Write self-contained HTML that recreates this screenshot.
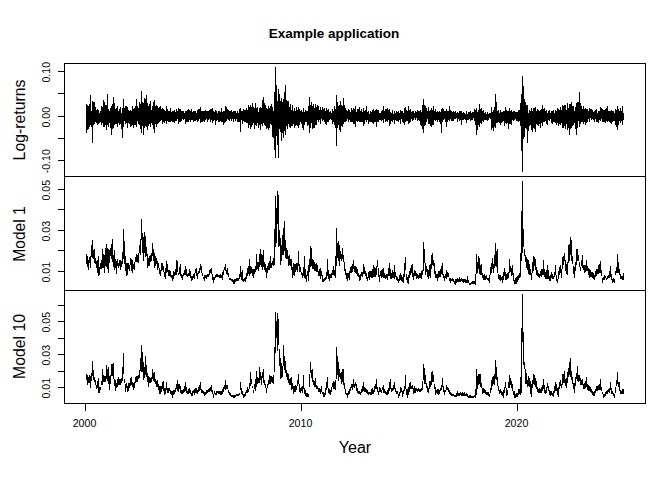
<!DOCTYPE html><html><head><meta charset="utf-8"><style>html,body{margin:0;padding:0;background:#fff;width:672px;height:480px;overflow:hidden}svg{display:block}</style></head><body><svg width="672" height="480" viewBox="0 0 672 480" shape-rendering="crispEdges"><rect width="672" height="480" fill="#fff"/><g fill="none" stroke="#000" stroke-width="1"><rect x="64.5" y="63.5" width="581" height="340"/><path d="M64 176.5H645M64 290.5H645"/><path d="M58 71.5H64M58 93.5H64M58 116.5H64M58 138.5H64M58 160.5H64M58 189.5H64M58 209.5H64M58 230.5H64M58 250.5H64M58 271.5H64M58 305.5H64M58 321.5H64M58 338.5H64M58 354.5H64M58 371.5H64M58 387.5H64M85.5 403V411M301.5 403V411M517.5 403V411"/></g><path d="M86 104.1h1V133.2h-1zM87 104.8h1V129.6h-1zM88 105.5h1V128.9h-1zM89 104.1h1V126.7h-1zM90 94.6h1V125.2h-1zM91 110.6h1V126.7h-1zM92 101.1h1V142.7h-1zM93 101.9h1V125.2h-1zM94 101.9h1V123.8h-1zM95 107.0h1V122.3h-1zM96 109.9h1V123.4h-1zM97 109.2h1V125.2h-1zM98 109.9h1V123.8h-1zM99 113.0h1V122.9h-1zM100 110.6h1V122.3h-1zM101 106.3h1V125.2h-1zM102 107.0h1V123.1h-1zM103 100.4h1V127.4h-1zM104 101.9h1V126.7h-1zM105 104.8h1V125.2h-1zM106 104.8h1V130.3h-1zM107 93.9h1V125.2h-1zM108 109.2h1V126.7h-1zM109 110.7h1V122.7h-1zM110 107.7h1V128.1h-1zM111 105.5h1V135.4h-1zM112 103.9h1V128.9h-1zM113 97.2h1V128.1h-1zM114 103.3h1V125.2h-1zM115 108.6h1V123.5h-1zM116 107.7h1V123.8h-1zM117 105.5h1V126.7h-1zM118 110.7h1V123.4h-1zM119 109.2h1V125.2h-1zM120 107.0h1V123.8h-1zM121 112.8h1V128.6h-1zM122 107.7h1V138.3h-1zM123 99.0h1V126.7h-1zM124 107.5h1V120.8h-1zM125 105.5h1V123.8h-1zM126 106.3h1V123.0h-1zM127 107.0h1V128.1h-1zM128 109.5h1V123.2h-1zM129 110.6h1V123.8h-1zM130 109.9h1V126.7h-1zM131 110.6h1V125.9h-1zM132 106.3h1V125.2h-1zM133 109.2h1V128.1h-1zM134 107.9h1V125.4h-1zM135 106.3h1V125.2h-1zM136 99.0h1V126.7h-1zM137 106.3h1V121.2h-1zM138 107.7h1V123.8h-1zM139 101.9h1V125.2h-1zM140 103.5h1V128.8h-1zM141 90.9h1V133.2h-1zM142 102.4h1V126.1h-1zM143 103.3h1V134.7h-1zM144 97.5h1V128.1h-1zM145 98.9h1V125.6h-1zM146 94.6h1V126.7h-1zM147 103.3h1V129.6h-1zM148 105.9h1V125.6h-1zM149 104.1h1V123.8h-1zM150 101.1h1V126.7h-1zM151 109.6h1V123.2h-1zM152 106.3h1V125.2h-1zM153 101.9h1V128.9h-1zM154 100.4h1V132.5h-1zM155 105.9h1V123.6h-1zM156 104.8h1V126.7h-1zM157 106.3h1V123.8h-1zM158 108.1h1V122.5h-1zM159 107.0h1V122.3h-1zM160 106.3h1V120.8h-1zM161 108.7h1V119.7h-1zM162 107.7h1V123.8h-1zM163 109.2h1V122.3h-1zM164 109.9h1V123.0h-1zM165 110.6h1V120.8h-1zM166 106.3h1V123.8h-1zM167 109.1h1V121.2h-1zM168 110.6h1V122.3h-1zM169 110.8h1V121.5h-1zM170 108.4h1V122.3h-1zM171 112.4h1V121.3h-1zM172 110.6h1V121.6h-1zM173 111.2h1V121.8h-1zM174 109.9h1V123.0h-1zM175 112.0h1V121.3h-1zM176 109.2h1V120.8h-1zM177 111.2h1V119.4h-1zM178 107.7h1V123.8h-1zM179 109.2h1V122.3h-1zM180 109.2h1V122.3h-1zM181 110.6h1V120.8h-1zM182 111.2h1V119.3h-1zM183 111.4h1V120.1h-1zM184 113.0h1V119.0h-1zM185 110.6h1V123.8h-1zM186 111.3h1V121.7h-1zM187 109.9h1V121.6h-1zM188 109.2h1V122.3h-1zM189 110.2h1V119.8h-1zM190 110.6h1V121.6h-1zM191 109.2h1V120.1h-1zM192 111.9h1V119.7h-1zM193 110.6h1V121.6h-1zM194 111.1h1V121.1h-1zM195 110.6h1V120.8h-1zM196 112.7h1V120.0h-1zM197 109.9h1V122.3h-1zM198 109.3h1V120.6h-1zM199 109.4h1V119.2h-1zM200 107.0h1V123.0h-1zM201 110.5h1V121.8h-1zM202 110.6h1V121.6h-1zM203 111.1h1V121.3h-1zM204 110.6h1V121.6h-1zM205 109.9h1V120.1h-1zM206 111.1h1V118.8h-1zM207 110.6h1V122.3h-1zM208 110.9h1V119.9h-1zM209 110.1h1V119.3h-1zM210 109.2h1V122.3h-1zM211 109.3h1V119.8h-1zM212 108.4h1V123.0h-1zM213 110.6h1V120.8h-1zM214 112.2h1V120.1h-1zM215 109.9h1V124.5h-1zM216 111.3h1V121.1h-1zM217 112.7h1V120.0h-1zM218 111.4h1V122.3h-1zM219 110.6h1V122.3h-1zM220 112.0h1V120.5h-1zM221 108.4h1V122.3h-1zM222 112.2h1V121.7h-1zM223 110.6h1V124.5h-1zM224 111.3h1V122.7h-1zM225 106.3h1V122.3h-1zM226 107.0h1V120.8h-1zM227 109.1h1V119.0h-1zM228 110.0h1V119.8h-1zM229 110.6h1V120.8h-1zM230 110.7h1V119.1h-1zM231 109.9h1V120.8h-1zM232 111.9h1V119.1h-1zM233 111.4h1V121.6h-1zM234 111.0h1V119.3h-1zM235 110.6h1V120.8h-1zM236 112.9h1V119.0h-1zM237 111.4h1V122.3h-1zM238 112.6h1V121.6h-1zM239 109.2h1V122.3h-1zM240 108.4h1V131.8h-1zM241 111.1h1V120.4h-1zM242 110.6h1V123.8h-1zM243 109.2h1V120.8h-1zM244 109.7h1V122.0h-1zM245 109.9h1V121.6h-1zM246 108.2h1V122.8h-1zM247 109.6h1V122.7h-1zM248 105.3h1V127.9h-1zM249 107.2h1V125.3h-1zM250 105.3h1V129.3h-1zM251 106.8h1V126.9h-1zM252 103.1h1V125.0h-1zM253 107.2h1V123.3h-1zM254 108.2h1V129.3h-1zM255 103.1h1V124.6h-1zM256 108.2h1V126.4h-1zM257 106.8h1V122.5h-1zM258 111.6h1V127.9h-1zM259 108.2h1V125.0h-1zM260 106.8h1V130.1h-1zM261 108.2h1V124.2h-1zM262 99.5h1V126.4h-1zM263 97.3h1V122.7h-1zM264 102.5h1V125.0h-1zM265 105.3h1V125.6h-1zM266 108.2h1V129.3h-1zM267 108.7h1V128.2h-1zM268 106.0h1V130.1h-1zM269 107.9h1V128.4h-1zM270 106.2h1V123.8h-1zM271 103.8h1V125.0h-1zM272 106.8h1V137.4h-1zM273 110.8h1V138.1h-1zM274 92.2h1V149.8h-1zM275 67.1h1V157.8h-1zM276 84.9h1V136.3h-1zM277 100.8h1V145.4h-1zM278 89.3h1V157.8h-1zM279 93.6h1V129.3h-1zM280 100.9h1V132.0h-1zM281 98.0h1V141.0h-1zM282 102.4h1V132.9h-1zM283 99.2h1V138.1h-1zM284 92.2h1V131.4h-1zM285 84.9h1V135.2h-1zM286 99.5h1V125.8h-1zM287 100.5h1V128.6h-1zM288 100.9h1V124.3h-1zM289 107.2h1V127.1h-1zM290 103.8h1V127.9h-1zM291 109.6h1V125.5h-1zM292 105.3h1V126.4h-1zM293 111.0h1V124.1h-1zM294 108.2h1V127.9h-1zM295 111.2h1V125.8h-1zM296 106.8h1V125.0h-1zM297 109.7h1V125.9h-1zM298 106.8h1V127.9h-1zM299 109.4h1V125.2h-1zM300 110.8h1V121.9h-1zM301 109.7h1V123.5h-1zM302 111.6h1V127.5h-1zM303 108.2h1V130.1h-1zM304 112.3h1V125.4h-1zM305 109.7h1V122.0h-1zM306 111.2h1V122.0h-1zM307 111.1h1V126.4h-1zM308 106.4h1V125.2h-1zM309 97.3h1V133.0h-1zM310 104.8h1V127.9h-1zM311 101.6h1V123.2h-1zM312 106.2h1V129.3h-1zM313 103.8h1V128.2h-1zM314 108.1h1V127.9h-1zM315 103.8h1V124.7h-1zM316 107.2h1V125.0h-1zM317 105.3h1V119.8h-1zM318 106.1h1V122.0h-1zM319 110.4h1V119.8h-1zM320 106.8h1V123.5h-1zM321 110.2h1V119.4h-1zM322 106.8h1V120.6h-1zM323 109.3h1V120.1h-1zM324 108.2h1V122.3h-1zM325 111.1h1V123.5h-1zM326 108.4h1V125.2h-1zM327 109.5h1V122.3h-1zM328 109.2h1V122.3h-1zM329 111.8h1V120.4h-1zM330 111.4h1V119.4h-1zM331 113.1h1V119.5h-1zM332 109.2h1V123.8h-1zM333 110.8h1V122.1h-1zM334 106.3h1V125.2h-1zM335 108.6h1V128.3h-1zM336 95.3h1V146.4h-1zM337 101.9h1V128.1h-1zM338 106.2h1V125.0h-1zM339 104.8h1V129.6h-1zM340 101.1h1V131.8h-1zM341 105.4h1V126.4h-1zM342 106.3h1V126.7h-1zM343 97.5h1V123.8h-1zM344 104.6h1V121.6h-1zM345 107.7h1V122.3h-1zM346 109.9h1V120.8h-1zM347 110.8h1V119.2h-1zM348 109.2h1V122.3h-1zM349 109.7h1V119.8h-1zM350 111.8h1V122.2h-1zM351 108.4h1V122.3h-1zM352 109.7h1V122.3h-1zM353 107.7h1V123.8h-1zM354 108.7h1V124.1h-1zM355 105.5h1V127.4h-1zM356 111.9h1V120.6h-1zM357 109.2h1V122.3h-1zM358 108.9h1V120.7h-1zM359 107.0h1V122.3h-1zM360 111.1h1V121.7h-1zM361 109.2h1V121.6h-1zM362 112.0h1V122.0h-1zM363 108.4h1V125.9h-1zM364 111.2h1V123.5h-1zM365 109.6h1V119.8h-1zM366 105.5h1V122.3h-1zM367 111.8h1V119.9h-1zM368 111.4h1V123.8h-1zM369 113.5h1V121.5h-1zM370 110.6h1V121.6h-1zM371 111.8h1V122.1h-1zM372 109.7h1V122.5h-1zM373 109.2h1V123.8h-1zM374 110.7h1V122.3h-1zM375 109.9h1V122.3h-1zM376 109.2h1V127.4h-1zM377 109.7h1V121.6h-1zM378 109.9h1V122.3h-1zM379 112.7h1V120.0h-1zM380 112.9h1V120.1h-1zM381 110.6h1V120.8h-1zM382 110.4h1V119.6h-1zM383 106.3h1V123.0h-1zM384 110.5h1V119.3h-1zM385 109.2h1V122.3h-1zM386 109.4h1V121.1h-1zM387 107.7h1V122.3h-1zM388 109.8h1V120.0h-1zM389 109.2h1V125.9h-1zM390 111.6h1V123.6h-1zM391 112.6h1V121.1h-1zM392 109.9h1V122.3h-1zM393 113.6h1V120.3h-1zM394 110.6h1V123.8h-1zM395 112.9h1V120.3h-1zM396 110.6h1V120.8h-1zM397 112.4h1V121.3h-1zM398 111.4h1V122.3h-1zM399 112.8h1V119.9h-1zM400 109.9h1V123.8h-1zM401 111.2h1V119.0h-1zM402 110.6h1V121.6h-1zM403 112.5h1V123.1h-1zM404 107.7h1V125.2h-1zM405 107.0h1V122.3h-1zM406 110.0h1V120.5h-1zM407 110.8h1V120.8h-1zM408 105.5h1V123.8h-1zM409 109.7h1V122.6h-1zM410 109.2h1V122.3h-1zM411 111.6h1V119.1h-1zM412 111.4h1V120.8h-1zM413 111.3h1V119.8h-1zM414 112.9h1V118.2h-1zM415 110.6h1V120.1h-1zM416 111.6h1V118.2h-1zM417 109.9h1V120.8h-1zM418 111.3h1V119.8h-1zM419 110.6h1V120.8h-1zM420 109.9h1V125.2h-1zM421 112.3h1V125.9h-1zM422 104.9h1V129.4h-1zM423 99.0h1V133.2h-1zM424 105.2h1V126.3h-1zM425 105.5h1V125.2h-1zM426 107.7h1V122.3h-1zM427 110.7h1V119.0h-1zM428 107.0h1V123.8h-1zM429 111.3h1V124.3h-1zM430 109.6h1V125.5h-1zM431 108.4h1V126.7h-1zM432 109.8h1V124.6h-1zM433 105.5h1V125.2h-1zM434 111.0h1V119.7h-1zM435 109.2h1V120.8h-1zM436 112.1h1V119.9h-1zM437 111.4h1V121.6h-1zM438 112.3h1V120.3h-1zM439 110.6h1V121.6h-1zM440 112.3h1V124.2h-1zM441 109.2h1V132.5h-1zM442 108.4h1V122.3h-1zM443 109.4h1V120.3h-1zM444 111.1h1V119.1h-1zM445 111.4h1V121.6h-1zM446 109.2h1V127.4h-1zM447 110.6h1V122.3h-1zM448 110.9h1V120.3h-1zM449 106.3h1V120.8h-1zM450 109.6h1V118.5h-1zM451 110.6h1V120.8h-1zM452 112.4h1V120.7h-1zM453 111.4h1V120.8h-1zM454 111.9h1V119.4h-1zM455 110.6h1V119.4h-1zM456 113.3h1V118.0h-1zM457 112.1h1V121.6h-1zM458 113.3h1V119.1h-1zM459 110.6h1V120.8h-1zM460 111.0h1V119.7h-1zM461 111.4h1V124.5h-1zM462 113.4h1V119.6h-1zM463 112.1h1V120.1h-1zM464 112.6h1V119.1h-1zM465 114.0h1V119.9h-1zM466 111.4h1V123.0h-1zM467 113.5h1V120.2h-1zM468 112.1h1V120.1h-1zM469 112.1h1V118.9h-1zM470 111.4h1V120.8h-1zM471 113.3h1V120.1h-1zM472 112.1h1V120.1h-1zM473 111.6h1V118.3h-1zM474 109.2h1V120.8h-1zM475 109.7h1V124.7h-1zM476 108.4h1V134.7h-1zM477 112.2h1V129.8h-1zM478 110.1h1V124.6h-1zM479 104.1h1V126.7h-1zM480 108.8h1V122.8h-1zM481 108.4h1V123.8h-1zM482 111.1h1V120.6h-1zM483 109.9h1V122.0h-1zM484 112.5h1V119.8h-1zM485 112.1h1V120.1h-1zM486 113.6h1V119.8h-1zM487 111.9h1V120.6h-1zM488 113.5h1V120.0h-1zM489 113.3h1V118.2h-1zM490 112.6h1V119.1h-1zM491 106.8h1V130.1h-1zM492 112.4h1V127.5h-1zM493 109.7h1V130.8h-1zM494 106.6h1V127.1h-1zM495 94.4h1V127.9h-1zM496 101.6h1V123.0h-1zM497 110.7h1V122.8h-1zM498 109.7h1V122.0h-1zM499 113.1h1V123.4h-1zM500 109.7h1V125.0h-1zM501 111.5h1V123.0h-1zM502 111.9h1V122.0h-1zM503 111.2h1V121.2h-1zM504 110.7h1V126.4h-1zM505 106.8h1V122.7h-1zM506 110.4h1V123.5h-1zM507 111.1h1V123.2h-1zM508 111.0h1V129.3h-1zM509 107.5h1V124.2h-1zM510 111.2h1V124.2h-1zM511 109.7h1V125.0h-1zM512 111.8h1V119.6h-1zM513 110.8h1V120.6h-1zM514 111.1h1V119.9h-1zM515 111.9h1V119.1h-1zM516 111.9h1V120.6h-1zM517 111.9h1V120.9h-1zM518 110.4h1V122.0h-1zM519 109.7h1V121.1h-1zM520 103.0h1V126.4h-1zM521 93.6h1V151.2h-1zM522 76.1h1V172.4h-1zM523 86.3h1V138.9h-1zM524 99.0h1V136.6h-1zM525 102.4h1V127.9h-1zM526 105.3h1V129.0h-1zM527 104.6h1V143.2h-1zM528 112.8h1V130.7h-1zM529 109.7h1V126.4h-1zM530 110.7h1V125.4h-1zM531 108.2h1V130.0h-1zM532 111.4h1V131.5h-1zM533 107.5h1V127.6h-1zM534 108.4h1V128.8h-1zM535 106.8h1V132.3h-1zM536 111.2h1V124.4h-1zM537 109.0h1V125.0h-1zM538 109.7h1V125.9h-1zM539 111.2h1V123.9h-1zM540 109.7h1V127.9h-1zM541 108.8h1V123.2h-1zM542 105.3h1V126.4h-1zM543 109.4h1V122.4h-1zM544 107.5h1V122.0h-1zM545 110.5h1V120.5h-1zM546 109.7h1V123.7h-1zM547 112.8h1V125.0h-1zM548 111.0h1V120.0h-1zM549 109.7h1V120.6h-1zM550 113.1h1V119.3h-1zM551 111.1h1V122.8h-1zM552 111.2h1V123.5h-1zM553 109.7h1V122.1h-1zM554 112.7h1V122.0h-1zM555 109.7h1V122.7h-1zM556 111.3h1V125.0h-1zM557 108.2h1V123.2h-1zM558 109.1h1V126.4h-1zM559 110.3h1V123.5h-1zM560 106.8h1V125.0h-1zM561 110.0h1V123.0h-1zM562 105.3h1V127.9h-1zM563 105.5h1V128.1h-1zM564 104.6h1V126.0h-1zM565 104.8h1V129.3h-1zM566 110.3h1V123.8h-1zM567 103.3h1V129.6h-1zM568 107.8h1V128.2h-1zM569 104.1h1V134.7h-1zM570 104.3h1V128.5h-1zM571 101.9h1V128.1h-1zM572 106.1h1V126.0h-1zM573 105.5h1V125.2h-1zM574 110.6h1V122.6h-1zM575 107.0h1V128.9h-1zM576 103.3h1V135.4h-1zM577 101.9h1V128.1h-1zM578 102.3h1V121.1h-1zM579 92.4h1V126.7h-1zM580 102.6h1V123.8h-1zM581 105.8h1V121.6h-1zM582 109.2h1V122.4h-1zM583 106.3h1V123.8h-1zM584 109.1h1V122.1h-1zM585 107.7h1V125.2h-1zM586 108.8h1V123.1h-1zM587 109.2h1V122.3h-1zM588 111.1h1V119.2h-1zM589 107.7h1V121.6h-1zM590 108.5h1V118.3h-1zM591 109.2h1V120.1h-1zM592 110.2h1V118.8h-1zM593 112.1h1V120.4h-1zM594 110.6h1V122.3h-1zM595 109.9h1V119.1h-1zM596 109.2h1V122.3h-1zM597 112.6h1V121.8h-1zM598 110.6h1V123.0h-1zM599 110.9h1V119.7h-1zM600 107.0h1V120.8h-1zM601 108.0h1V118.9h-1zM602 109.2h1V122.3h-1zM603 110.1h1V122.4h-1zM604 110.0h1V121.9h-1zM605 109.2h1V123.0h-1zM606 108.2h1V121.3h-1zM607 106.3h1V121.6h-1zM608 111.2h1V120.8h-1zM609 110.6h1V122.3h-1zM610 110.9h1V122.7h-1zM611 109.9h1V123.8h-1zM612 110.5h1V122.2h-1zM613 110.6h1V120.8h-1zM614 112.9h1V120.6h-1zM615 109.2h1V125.2h-1zM616 110.4h1V126.8h-1zM617 106.3h1V129.6h-1zM618 109.2h1V125.2h-1zM619 111.1h1V121.4h-1zM620 108.4h1V123.0h-1zM621 111.0h1V120.8h-1zM622 105.5h1V124.5h-1zM623 112.8h1V120.1h-1zM86 254.0h1V263.5h-1zM87 256.3h1V266.5h-1zM88 259.5h1V270.0h-1zM89 256.5h1V263.0h-1zM90 256.0h1V268.0h-1zM91 244.9h1V257.0h-1zM92 240.0h1V258.2h-1zM93 250.3h1V259.2h-1zM94 249.0h1V262.7h-1zM95 257.9h1V263.5h-1zM96 261.3h1V267.8h-1zM97 259.6h1V273.3h-1zM98 256.0h1V276.0h-1zM99 267.0h1V274.7h-1zM100 262.9h1V268.7h-1zM101 260.3h1V269.1h-1zM102 249.0h1V268.4h-1zM103 254.0h1V268.3h-1zM104 254.7h1V273.0h-1zM105 248.1h1V265.7h-1zM106 244.0h1V266.5h-1zM107 248.3h1V268.6h-1zM108 249.2h1V273.0h-1zM109 250.4h1V262.7h-1zM110 247.6h1V256.0h-1zM111 244.2h1V258.6h-1zM112 239.0h1V261.8h-1zM113 255.1h1V267.3h-1zM114 250.0h1V269.6h-1zM115 258.7h1V268.2h-1zM116 260.5h1V274.0h-1zM117 258.5h1V266.4h-1zM118 262.5h1V267.5h-1zM119 260.3h1V266.1h-1zM120 260.1h1V270.0h-1zM121 260.9h1V266.8h-1zM122 251.7h1V263.5h-1zM123 229.0h1V258.7h-1zM124 240.8h1V264.0h-1zM125 256.3h1V270.7h-1zM126 262.8h1V276.0h-1zM127 263.2h1V274.7h-1zM128 262.9h1V269.0h-1zM129 265.1h1V271.2h-1zM130 258.0h1V265.3h-1zM131 258.7h1V271.4h-1zM132 259.6h1V273.0h-1zM133 264.2h1V268.8h-1zM134 261.9h1V270.0h-1zM135 256.7h1V262.1h-1zM136 254.4h1V261.5h-1zM137 255.2h1V261.5h-1zM138 252.9h1V263.0h-1zM139 244.8h1V252.5h-1zM140 239.0h1V254.8h-1zM141 219.0h1V239.8h-1zM142 233.4h1V253.2h-1zM143 237.0h1V261.0h-1zM144 231.9h1V253.1h-1zM145 235.7h1V257.4h-1zM146 246.5h1V256.1h-1zM147 254.4h1V267.5h-1zM148 257.8h1V265.7h-1zM149 256.2h1V266.0h-1zM150 255.3h1V262.3h-1zM151 253.3h1V260.9h-1zM152 243.0h1V256.4h-1zM153 248.7h1V260.7h-1zM154 252.8h1V268.0h-1zM155 256.3h1V265.6h-1zM156 257.5h1V263.6h-1zM157 260.9h1V269.7h-1zM158 262.5h1V267.6h-1zM159 267.9h1V273.5h-1zM160 270.2h1V276.0h-1zM161 263.0h1V271.0h-1zM162 262.8h1V269.9h-1zM163 266.4h1V272.3h-1zM164 272.0h1V276.5h-1zM165 268.4h1V279.0h-1zM166 261.0h1V272.5h-1zM167 263.8h1V271.7h-1zM168 270.3h1V275.9h-1zM169 269.9h1V275.5h-1zM170 270.9h1V276.7h-1zM171 274.9h1V278.4h-1zM172 274.9h1V281.0h-1zM173 270.7h1V278.8h-1zM174 272.4h1V275.7h-1zM175 269.2h1V275.2h-1zM176 260.0h1V275.0h-1zM177 261.0h1V271.6h-1zM178 273.0h1V275.1h-1zM179 267.4h1V274.2h-1zM180 263.8h1V276.2h-1zM181 273.8h1V278.0h-1zM182 274.5h1V280.0h-1zM183 273.4h1V276.0h-1zM184 270.0h1V275.3h-1zM185 266.0h1V274.7h-1zM186 268.8h1V276.4h-1zM187 273.8h1V277.4h-1zM188 272.9h1V275.9h-1zM189 269.4h1V276.1h-1zM190 271.0h1V277.9h-1zM191 275.8h1V281.0h-1zM192 275.9h1V279.6h-1zM193 274.4h1V277.5h-1zM194 273.1h1V278.7h-1zM195 268.8h1V273.2h-1zM196 267.5h1V276.4h-1zM197 272.7h1V278.8h-1zM198 270.7h1V274.4h-1zM199 268.3h1V272.7h-1zM200 264.0h1V270.4h-1zM201 266.0h1V273.3h-1zM202 272.8h1V275.5h-1zM203 276.7h1V279.4h-1zM204 275.4h1V281.0h-1zM205 274.6h1V278.3h-1zM206 274.6h1V278.6h-1zM207 274.0h1V277.3h-1zM208 273.6h1V276.6h-1zM209 269.7h1V274.9h-1zM210 268.7h1V272.8h-1zM211 267.5h1V273.9h-1zM212 274.2h1V279.8h-1zM213 277.0h1V282.5h-1zM214 277.0h1V279.5h-1zM215 275.1h1V277.5h-1zM216 273.7h1V276.5h-1zM217 273.6h1V276.6h-1zM218 274.5h1V276.6h-1zM219 275.1h1V278.1h-1zM220 274.4h1V277.9h-1zM221 275.3h1V277.7h-1zM222 272.1h1V280.0h-1zM223 269.6h1V274.5h-1zM224 267.4h1V270.2h-1zM225 264.0h1V270.5h-1zM226 269.9h1V274.0h-1zM227 267.5h1V275.4h-1zM228 272.5h1V277.0h-1zM229 277.5h1V280.1h-1zM230 278.0h1V280.2h-1zM231 278.6h1V280.6h-1zM232 279.2h1V282.2h-1zM233 279.5h1V283.8h-1zM234 278.7h1V283.8h-1zM235 278.6h1V281.9h-1zM236 278.3h1V280.6h-1zM237 278.1h1V281.0h-1zM238 277.9h1V281.4h-1zM239 273.6h1V279.4h-1zM240 266.0h1V277.2h-1zM241 272.1h1V279.5h-1zM242 270.0h1V280.6h-1zM243 279.1h1V282.0h-1zM244 278.0h1V281.4h-1zM245 277.2h1V281.8h-1zM246 272.7h1V279.4h-1zM247 268.4h1V275.7h-1zM248 265.7h1V273.5h-1zM249 258.8h1V275.8h-1zM250 266.2h1V274.2h-1zM251 266.8h1V272.9h-1zM252 269.4h1V275.8h-1zM253 269.0h1V278.0h-1zM254 268.9h1V273.5h-1zM255 266.0h1V272.0h-1zM256 254.4h1V269.6h-1zM257 261.9h1V268.8h-1zM258 261.5h1V270.7h-1zM259 254.1h1V266.5h-1zM260 249.4h1V265.2h-1zM261 254.3h1V267.1h-1zM262 255.0h1V269.8h-1zM263 250.0h1V267.1h-1zM264 261.5h1V270.4h-1zM265 263.9h1V271.9h-1zM266 267.9h1V277.5h-1zM267 265.7h1V273.4h-1zM268 263.0h1V270.1h-1zM269 261.2h1V270.1h-1zM270 256.0h1V268.1h-1zM271 262.7h1V268.2h-1zM272 260.8h1V264.8h-1zM273 258.4h1V265.8h-1zM274 228.6h1V265.0h-1zM275 196.0h1V247.3h-1zM276 208.1h1V243.3h-1zM277 191.0h1V223.8h-1zM278 194.8h1V246.9h-1zM279 230.3h1V246.4h-1zM280 238.1h1V265.0h-1zM281 244.7h1V260.8h-1zM282 234.7h1V255.4h-1zM283 227.5h1V254.5h-1zM284 221.0h1V251.1h-1zM285 239.7h1V257.8h-1zM286 247.8h1V259.2h-1zM287 250.1h1V259.4h-1zM288 256.3h1V265.9h-1zM289 254.6h1V264.8h-1zM290 258.6h1V265.7h-1zM291 258.6h1V270.4h-1zM292 266.8h1V277.5h-1zM293 263.0h1V275.1h-1zM294 263.5h1V276.0h-1zM295 264.1h1V271.7h-1zM296 262.9h1V270.3h-1zM297 263.2h1V271.7h-1zM298 251.0h1V265.7h-1zM299 264.2h1V271.8h-1zM300 266.9h1V272.3h-1zM301 271.6h1V275.4h-1zM302 273.1h1V278.4h-1zM303 267.1h1V275.9h-1zM304 256.0h1V277.9h-1zM305 268.8h1V279.0h-1zM306 274.5h1V282.0h-1zM307 270.8h1V275.8h-1zM308 264.7h1V281.0h-1zM309 258.5h1V271.6h-1zM310 246.0h1V267.3h-1zM311 247.5h1V265.7h-1zM312 259.1h1V268.6h-1zM313 260.2h1V269.4h-1zM314 261.5h1V271.3h-1zM315 263.7h1V270.5h-1zM316 263.2h1V271.9h-1zM317 265.2h1V272.4h-1zM318 270.8h1V275.9h-1zM319 268.9h1V276.2h-1zM320 267.5h1V279.3h-1zM321 270.9h1V275.8h-1zM322 275.2h1V282.0h-1zM323 279.0h1V282.1h-1zM324 278.1h1V281.2h-1zM325 277.0h1V280.2h-1zM326 271.6h1V279.1h-1zM327 259.4h1V276.3h-1zM328 270.0h1V278.6h-1zM329 274.3h1V280.6h-1zM330 274.4h1V278.2h-1zM331 272.9h1V277.8h-1zM332 269.6h1V274.9h-1zM333 265.9h1V275.0h-1zM334 270.3h1V276.0h-1zM335 255.8h1V277.5h-1zM336 228.0h1V265.7h-1zM337 243.2h1V257.5h-1zM338 241.0h1V261.4h-1zM339 245.2h1V265.7h-1zM340 250.6h1V258.9h-1zM341 254.0h1V260.8h-1zM342 248.0h1V258.9h-1zM343 254.8h1V262.1h-1zM344 262.0h1V270.8h-1zM345 269.2h1V274.6h-1zM346 272.9h1V278.9h-1zM347 273.1h1V281.0h-1zM348 272.8h1V278.3h-1zM349 270.8h1V280.0h-1zM350 267.0h1V272.8h-1zM351 266.3h1V272.9h-1zM352 264.3h1V272.0h-1zM353 260.0h1V268.6h-1zM354 266.1h1V271.5h-1zM355 266.3h1V273.0h-1zM356 267.2h1V273.8h-1zM357 268.7h1V275.5h-1zM358 273.2h1V277.1h-1zM359 275.3h1V281.0h-1zM360 274.0h1V280.0h-1zM361 271.9h1V276.2h-1zM362 272.4h1V276.9h-1zM363 263.8h1V274.1h-1zM364 267.1h1V273.6h-1zM365 271.0h1V275.7h-1zM366 272.6h1V278.6h-1zM367 277.1h1V280.8h-1zM368 272.1h1V277.7h-1zM369 271.1h1V279.5h-1zM370 271.0h1V277.0h-1zM371 271.2h1V277.8h-1zM372 269.4h1V278.3h-1zM373 265.0h1V276.7h-1zM374 267.4h1V276.8h-1zM375 267.8h1V276.5h-1zM376 266.2h1V274.8h-1zM377 260.0h1V267.3h-1zM378 268.0h1V277.0h-1zM379 275.3h1V281.9h-1zM380 271.0h1V276.1h-1zM381 269.7h1V278.1h-1zM382 268.6h1V276.8h-1zM383 267.5h1V278.2h-1zM384 273.0h1V277.9h-1zM385 274.5h1V278.6h-1zM386 274.1h1V278.0h-1zM387 273.5h1V279.5h-1zM388 267.9h1V275.7h-1zM389 262.5h1V276.2h-1zM390 269.3h1V278.6h-1zM391 273.2h1V279.4h-1zM392 270.2h1V277.5h-1zM393 272.4h1V277.8h-1zM394 265.0h1V278.5h-1zM395 272.0h1V277.3h-1zM396 275.7h1V279.5h-1zM397 276.7h1V280.8h-1zM398 278.5h1V283.0h-1zM399 275.4h1V281.4h-1zM400 272.8h1V280.2h-1zM401 275.3h1V281.4h-1zM402 277.0h1V281.7h-1zM403 274.4h1V283.0h-1zM404 262.5h1V276.9h-1zM405 257.0h1V269.9h-1zM406 273.9h1V279.5h-1zM407 276.6h1V282.5h-1zM408 274.6h1V284.4h-1zM409 271.0h1V278.1h-1zM410 267.7h1V275.1h-1zM411 264.9h1V272.8h-1zM412 263.8h1V277.0h-1zM413 272.8h1V280.0h-1zM414 270.1h1V276.2h-1zM415 270.6h1V275.8h-1zM416 272.7h1V278.7h-1zM417 273.5h1V277.5h-1zM418 274.9h1V278.8h-1zM419 273.1h1V278.2h-1zM420 273.0h1V278.1h-1zM421 270.9h1V278.8h-1zM422 270.2h1V275.2h-1zM423 241.9h1V271.4h-1zM424 248.8h1V262.8h-1zM425 262.5h1V275.2h-1zM426 266.4h1V272.3h-1zM427 269.4h1V277.3h-1zM428 269.9h1V278.8h-1zM429 265.1h1V275.7h-1zM430 264.0h1V277.5h-1zM431 255.0h1V269.0h-1zM432 253.0h1V265.0h-1zM433 259.6h1V265.6h-1zM434 262.5h1V274.1h-1zM435 270.6h1V277.5h-1zM436 273.9h1V278.2h-1zM437 274.0h1V280.6h-1zM438 271.2h1V278.4h-1zM439 271.3h1V277.0h-1zM440 269.4h1V276.7h-1zM441 266.1h1V273.5h-1zM442 263.0h1V274.7h-1zM443 273.8h1V278.0h-1zM444 275.7h1V281.0h-1zM445 274.0h1V277.5h-1zM446 270.0h1V278.7h-1zM447 271.8h1V276.5h-1zM448 272.5h1V277.2h-1zM449 277.6h1V281.0h-1zM450 278.0h1V282.5h-1zM451 278.5h1V281.3h-1zM452 278.2h1V280.7h-1zM453 279.1h1V282.2h-1zM454 281.1h1V283.5h-1zM455 279.4h1V285.0h-1zM456 279.4h1V282.5h-1zM457 278.1h1V282.0h-1zM458 278.5h1V282.1h-1zM459 277.4h1V281.8h-1zM460 278.5h1V282.0h-1zM461 277.7h1V281.3h-1zM462 279.0h1V282.4h-1zM463 279.3h1V282.7h-1zM464 278.6h1V282.4h-1zM465 279.4h1V282.8h-1zM466 279.5h1V282.6h-1zM467 276.0h1V283.0h-1zM468 280.3h1V283.4h-1zM469 282.9h1V285.2h-1zM470 283.0h1V285.3h-1zM471 281.6h1V283.7h-1zM472 280.9h1V283.9h-1zM473 280.5h1V284.1h-1zM474 281.0h1V283.7h-1zM475 274.4h1V285.0h-1zM476 254.4h1V273.5h-1zM477 262.4h1V273.0h-1zM478 256.0h1V269.0h-1zM479 257.5h1V273.6h-1zM480 265.1h1V275.2h-1zM481 263.8h1V275.0h-1zM482 273.3h1V278.1h-1zM483 274.7h1V280.0h-1zM484 273.7h1V280.3h-1zM485 275.5h1V279.9h-1zM486 275.3h1V279.1h-1zM487 277.6h1V280.3h-1zM488 278.4h1V280.8h-1zM489 274.7h1V282.5h-1zM490 267.2h1V275.2h-1zM491 263.1h1V273.4h-1zM492 258.0h1V268.9h-1zM493 264.3h1V272.7h-1zM494 255.4h1V267.9h-1zM495 243.0h1V265.8h-1zM496 250.5h1V266.8h-1zM497 248.8h1V272.7h-1zM498 273.7h1V278.7h-1zM499 274.7h1V279.6h-1zM500 275.0h1V281.0h-1zM501 276.7h1V280.4h-1zM502 275.5h1V283.0h-1zM503 272.0h1V279.9h-1zM504 267.5h1V276.2h-1zM505 271.7h1V279.5h-1zM506 273.9h1V279.8h-1zM507 272.6h1V279.1h-1zM508 271.9h1V277.8h-1zM509 259.4h1V272.7h-1zM510 265.5h1V272.4h-1zM511 267.9h1V275.6h-1zM512 265.0h1V275.3h-1zM513 273.2h1V281.1h-1zM514 280.0h1V283.8h-1zM515 278.4h1V283.6h-1zM516 276.7h1V283.8h-1zM517 275.8h1V282.0h-1zM518 274.6h1V279.8h-1zM519 273.2h1V278.4h-1zM520 252.5h1V276.8h-1zM521 210.8h1V261.0h-1zM522 181.0h1V253.3h-1zM523 229.0h1V247.1h-1zM524 249.1h1V255.7h-1zM525 255.2h1V262.1h-1zM526 256.9h1V267.8h-1zM527 259.2h1V269.9h-1zM528 260.3h1V273.6h-1zM529 264.1h1V275.1h-1zM530 269.0h1V274.9h-1zM531 272.9h1V280.0h-1zM532 262.4h1V272.5h-1zM533 256.0h1V271.3h-1zM534 257.0h1V265.9h-1zM535 258.6h1V270.4h-1zM536 266.9h1V274.5h-1zM537 269.5h1V275.5h-1zM538 272.5h1V277.1h-1zM539 274.2h1V278.1h-1zM540 271.0h1V275.9h-1zM541 269.4h1V277.3h-1zM542 268.9h1V274.6h-1zM543 260.0h1V274.7h-1zM544 268.8h1V276.5h-1zM545 271.5h1V278.9h-1zM546 269.8h1V278.7h-1zM547 265.0h1V278.6h-1zM548 270.2h1V278.9h-1zM549 276.1h1V280.7h-1zM550 275.1h1V280.6h-1zM551 272.2h1V277.6h-1zM552 274.0h1V278.8h-1zM553 275.5h1V279.3h-1zM554 271.9h1V277.3h-1zM555 265.0h1V275.3h-1zM556 275.0h1V281.3h-1zM557 278.7h1V283.0h-1zM558 271.4h1V279.3h-1zM559 267.2h1V274.9h-1zM560 264.8h1V273.3h-1zM561 268.7h1V277.5h-1zM562 257.0h1V269.3h-1zM563 256.0h1V265.0h-1zM564 253.0h1V261.2h-1zM565 259.5h1V270.7h-1zM566 264.3h1V273.8h-1zM567 262.3h1V275.0h-1zM568 245.0h1V262.6h-1zM569 244.3h1V261.3h-1zM570 237.0h1V255.4h-1zM571 240.0h1V260.6h-1zM572 256.4h1V264.0h-1zM573 265.6h1V274.0h-1zM574 267.4h1V277.5h-1zM575 261.9h1V270.7h-1zM576 248.8h1V265.4h-1zM577 249.4h1V261.1h-1zM578 255.3h1V261.2h-1zM579 262.4h1V266.6h-1zM580 266.5h1V270.7h-1zM581 259.7h1V266.4h-1zM582 255.0h1V268.4h-1zM583 264.8h1V269.9h-1zM584 265.2h1V272.6h-1zM585 264.7h1V272.4h-1zM586 260.0h1V270.9h-1zM587 265.7h1V270.6h-1zM588 268.4h1V274.5h-1zM589 268.6h1V277.6h-1zM590 269.7h1V277.4h-1zM591 271.7h1V277.4h-1zM592 271.7h1V277.5h-1zM593 273.1h1V278.6h-1zM594 274.8h1V280.0h-1zM595 271.0h1V276.6h-1zM596 269.3h1V275.5h-1zM597 268.5h1V273.9h-1zM598 265.0h1V274.1h-1zM599 264.1h1V273.3h-1zM600 261.0h1V273.2h-1zM601 269.8h1V275.8h-1zM602 278.1h1V282.5h-1zM603 276.9h1V279.9h-1zM604 275.1h1V279.7h-1zM605 276.1h1V278.4h-1zM606 277.9h1V279.9h-1zM607 276.3h1V278.5h-1zM608 274.5h1V278.3h-1zM609 271.0h1V277.9h-1zM610 266.0h1V276.5h-1zM611 273.7h1V280.0h-1zM612 278.8h1V282.5h-1zM613 277.8h1V281.7h-1zM614 278.9h1V283.0h-1zM615 270.5h1V274.6h-1zM616 267.2h1V273.4h-1zM617 254.4h1V272.9h-1zM618 262.3h1V273.1h-1zM619 268.5h1V274.9h-1zM620 274.2h1V278.9h-1zM621 276.0h1V278.6h-1zM622 275.5h1V280.3h-1zM623 273.3h1V279.8h-1zM86 374.4h1V380.1h-1zM87 375.1h1V384.5h-1zM88 376.7h1V382.8h-1zM89 375.2h1V383.2h-1zM90 376.3h1V387.6h-1zM91 373.4h1V381.4h-1zM92 361.4h1V375.8h-1zM93 370.1h1V380.2h-1zM94 376.8h1V381.6h-1zM95 380.3h1V384.8h-1zM96 385.2h1V388.9h-1zM97 381.2h1V387.8h-1zM98 378.1h1V392.7h-1zM99 387.0h1V393.4h-1zM100 386.9h1V389.7h-1zM101 380.7h1V385.0h-1zM102 369.4h1V385.3h-1zM103 374.8h1V381.5h-1zM104 376.3h1V381.9h-1zM105 375.7h1V382.1h-1zM106 365.0h1V379.3h-1zM107 369.4h1V380.5h-1zM108 366.5h1V383.9h-1zM109 376.3h1V389.8h-1zM110 374.9h1V384.0h-1zM111 363.5h1V375.5h-1zM112 364.4h1V375.8h-1zM113 362.8h1V379.1h-1zM114 378.5h1V385.5h-1zM115 379.8h1V391.3h-1zM116 382.7h1V388.4h-1zM117 379.2h1V386.8h-1zM118 377.2h1V385.0h-1zM119 378.7h1V385.1h-1zM120 379.1h1V385.2h-1zM121 377.6h1V382.6h-1zM122 366.9h1V380.8h-1zM123 353.3h1V373.8h-1zM124 379.0h1V383.3h-1zM125 383.7h1V392.0h-1zM126 382.9h1V388.4h-1zM127 386.4h1V392.1h-1zM128 382.9h1V391.1h-1zM129 382.5h1V388.3h-1zM130 378.1h1V386.4h-1zM131 377.4h1V384.7h-1zM132 381.6h1V386.8h-1zM133 383.3h1V389.8h-1zM134 381.7h1V387.6h-1zM135 377.4h1V382.9h-1zM136 375.9h1V382.0h-1zM137 375.8h1V381.5h-1zM138 374.5h1V379.1h-1zM139 370.0h1V377.7h-1zM140 357.5h1V370.6h-1zM141 344.6h1V371.7h-1zM142 351.9h1V372.4h-1zM143 362.2h1V379.6h-1zM144 366.5h1V377.9h-1zM145 356.3h1V375.2h-1zM146 365.3h1V377.4h-1zM147 372.5h1V381.8h-1zM148 375.9h1V386.9h-1zM149 376.5h1V383.2h-1zM150 378.2h1V383.0h-1zM151 377.1h1V382.2h-1zM152 368.6h1V378.9h-1zM153 372.7h1V380.5h-1zM154 372.3h1V382.0h-1zM155 379.1h1V384.4h-1zM156 381.0h1V386.6h-1zM157 379.6h1V386.6h-1zM158 384.3h1V390.3h-1zM159 386.1h1V394.2h-1zM160 385.9h1V394.0h-1zM161 386.4h1V392.3h-1zM162 381.6h1V388.8h-1zM163 381.0h1V391.2h-1zM164 388.0h1V395.4h-1zM165 387.7h1V393.6h-1zM166 382.3h1V390.4h-1zM167 388.2h1V392.5h-1zM168 387.6h1V393.2h-1zM169 387.9h1V390.5h-1zM170 390.2h1V393.5h-1zM171 391.4h1V394.8h-1zM172 391.0h1V397.6h-1zM173 389.8h1V394.5h-1zM174 390.0h1V393.5h-1zM175 388.0h1V392.1h-1zM176 384.0h1V389.3h-1zM177 380.1h1V390.5h-1zM178 384.4h1V391.6h-1zM179 384.0h1V388.7h-1zM180 386.4h1V392.7h-1zM181 389.6h1V393.7h-1zM182 389.5h1V394.1h-1zM183 388.7h1V393.2h-1zM184 386.1h1V392.0h-1zM185 382.3h1V391.4h-1zM186 386.5h1V392.8h-1zM187 390.7h1V393.6h-1zM188 389.4h1V394.4h-1zM189 388.0h1V393.0h-1zM190 389.9h1V394.1h-1zM191 392.5h1V395.6h-1zM192 390.8h1V395.7h-1zM193 389.9h1V392.9h-1zM194 388.9h1V394.6h-1zM195 388.4h1V393.1h-1zM196 387.5h1V393.2h-1zM197 389.5h1V394.0h-1zM198 386.6h1V391.9h-1zM199 384.7h1V391.0h-1zM200 382.3h1V390.2h-1zM201 388.7h1V392.6h-1zM202 389.9h1V392.9h-1zM203 391.4h1V394.2h-1zM204 391.9h1V396.0h-1zM205 391.9h1V394.5h-1zM206 389.9h1V394.0h-1zM207 390.4h1V393.3h-1zM208 388.9h1V392.2h-1zM209 388.0h1V391.6h-1zM210 387.0h1V390.5h-1zM211 384.5h1V391.8h-1zM212 390.0h1V394.0h-1zM213 393.6h1V397.6h-1zM214 391.3h1V394.1h-1zM215 392.7h1V395.0h-1zM216 390.5h1V394.5h-1zM217 390.7h1V393.2h-1zM218 391.2h1V394.0h-1zM219 391.1h1V394.0h-1zM220 391.2h1V394.5h-1zM221 391.3h1V395.0h-1zM222 389.3h1V393.9h-1zM223 386.9h1V391.5h-1zM224 384.8h1V388.9h-1zM225 380.1h1V389.6h-1zM226 384.9h1V388.8h-1zM227 384.6h1V388.8h-1zM228 390.3h1V393.1h-1zM229 391.7h1V395.4h-1zM230 393.4h1V395.5h-1zM231 394.5h1V396.7h-1zM232 394.6h1V396.6h-1zM233 395.0h1V397.9h-1zM234 395.2h1V397.6h-1zM235 394.7h1V396.9h-1zM236 393.9h1V395.9h-1zM237 394.3h1V396.3h-1zM238 393.7h1V395.7h-1zM239 392.8h1V395.1h-1zM240 381.6h1V389.6h-1zM241 388.4h1V393.5h-1zM242 390.5h1V395.2h-1zM243 394.3h1V397.6h-1zM244 394.3h1V397.1h-1zM245 392.1h1V396.2h-1zM246 390.0h1V393.3h-1zM247 386.7h1V393.1h-1zM248 389.2h1V392.0h-1zM249 382.9h1V388.8h-1zM250 372.1h1V386.3h-1zM251 379.2h1V383.5h-1zM252 385.7h1V388.3h-1zM253 389.6h1V393.2h-1zM254 383.9h1V389.1h-1zM255 379.1h1V391.0h-1zM256 371.4h1V386.6h-1zM257 377.0h1V383.9h-1zM258 378.3h1V383.4h-1zM259 367.0h1V383.0h-1zM260 372.0h1V380.2h-1zM261 375.9h1V385.0h-1zM262 371.7h1V378.1h-1zM263 369.2h1V382.5h-1zM264 380.0h1V385.4h-1zM265 383.6h1V388.0h-1zM266 387.5h1V392.5h-1zM267 383.6h1V388.1h-1zM268 380.1h1V385.0h-1zM269 375.0h1V383.5h-1zM270 375.9h1V383.7h-1zM271 375.6h1V382.2h-1zM272 376.9h1V382.5h-1zM273 374.8h1V383.8h-1zM274 346.8h1V372.1h-1zM275 312.4h1V352.7h-1zM276 321.3h1V338.3h-1zM277 313.1h1V350.9h-1zM278 319.0h1V345.0h-1zM279 348.9h1V366.3h-1zM280 357.8h1V379.4h-1zM281 363.4h1V377.9h-1zM282 366.0h1V376.5h-1zM283 345.2h1V366.0h-1zM284 356.3h1V369.7h-1zM285 361.3h1V373.1h-1zM286 369.6h1V377.4h-1zM287 372.9h1V379.8h-1zM288 374.3h1V382.5h-1zM289 378.8h1V385.0h-1zM290 377.5h1V384.6h-1zM291 376.5h1V389.8h-1zM292 383.1h1V389.4h-1zM293 386.3h1V394.0h-1zM294 386.4h1V391.9h-1zM295 384.7h1V391.9h-1zM296 385.7h1V390.1h-1zM297 380.1h1V385.5h-1zM298 374.3h1V384.0h-1zM299 383.9h1V391.8h-1zM300 387.9h1V393.1h-1zM301 386.8h1V391.3h-1zM302 386.0h1V392.9h-1zM303 375.0h1V388.6h-1zM304 387.5h1V394.3h-1zM305 389.9h1V395.8h-1zM306 393.2h1V396.5h-1zM307 393.4h1V396.6h-1zM308 393.8h1V396.9h-1zM309 373.5h1V387.1h-1zM310 361.9h1V373.1h-1zM311 370.2h1V378.4h-1zM312 369.2h1V381.6h-1zM313 380.2h1V384.9h-1zM314 381.3h1V386.6h-1zM315 377.9h1V386.8h-1zM316 384.6h1V389.3h-1zM317 385.9h1V388.6h-1zM318 388.3h1V392.1h-1zM319 388.1h1V392.2h-1zM320 388.5h1V394.4h-1zM321 385.9h1V392.4h-1zM322 391.5h1V394.1h-1zM323 392.0h1V396.7h-1zM324 392.6h1V397.4h-1zM325 388.0h1V394.7h-1zM326 382.1h1V390.4h-1zM327 377.2h1V388.2h-1zM328 387.5h1V393.3h-1zM329 388.7h1V393.6h-1zM330 389.8h1V395.4h-1zM331 386.8h1V391.6h-1zM332 382.7h1V387.3h-1zM333 381.4h1V389.4h-1zM334 382.4h1V388.7h-1zM335 380.1h1V389.6h-1zM336 347.3h1V378.6h-1zM337 356.0h1V375.0h-1zM338 361.9h1V380.6h-1zM339 368.5h1V377.0h-1zM340 373.3h1V378.9h-1zM341 372.4h1V383.5h-1zM342 368.5h1V382.0h-1zM343 369.2h1V385.3h-1zM344 383.1h1V389.0h-1zM345 389.3h1V394.1h-1zM346 392.6h1V395.2h-1zM347 392.7h1V397.6h-1zM348 391.4h1V395.0h-1zM349 388.8h1V393.8h-1zM350 386.8h1V391.2h-1zM351 384.0h1V388.4h-1zM352 383.5h1V389.9h-1zM353 378.6h1V386.5h-1zM354 383.7h1V387.6h-1zM355 382.0h1V385.6h-1zM356 384.4h1V390.5h-1zM357 387.5h1V393.0h-1zM358 390.5h1V394.0h-1zM359 390.6h1V394.1h-1zM360 392.4h1V394.9h-1zM361 389.4h1V393.3h-1zM362 385.8h1V391.5h-1zM363 381.6h1V391.3h-1zM364 387.2h1V391.7h-1zM365 387.8h1V392.4h-1zM366 389.3h1V393.1h-1zM367 390.0h1V394.1h-1zM368 391.6h1V395.1h-1zM369 391.5h1V394.4h-1zM370 391.9h1V395.2h-1zM371 388.6h1V395.2h-1zM372 387.6h1V394.0h-1zM373 389.6h1V393.7h-1zM374 385.8h1V391.5h-1zM375 384.1h1V388.7h-1zM376 378.6h1V389.2h-1zM377 387.3h1V392.2h-1zM378 390.7h1V394.7h-1zM379 386.6h1V391.8h-1zM380 388.2h1V392.4h-1zM381 390.3h1V393.4h-1zM382 387.2h1V390.3h-1zM383 385.2h1V392.6h-1zM384 388.7h1V393.3h-1zM385 391.0h1V393.8h-1zM386 391.8h1V395.1h-1zM387 390.4h1V394.8h-1zM388 387.7h1V393.7h-1zM389 382.4h1V390.6h-1zM390 379.4h1V388.9h-1zM391 388.2h1V391.9h-1zM392 387.8h1V391.4h-1zM393 385.2h1V389.9h-1zM394 382.3h1V388.6h-1zM395 387.5h1V392.0h-1zM396 390.8h1V393.8h-1zM397 391.0h1V394.2h-1zM398 393.5h1V397.6h-1zM399 391.8h1V395.5h-1zM400 386.7h1V393.0h-1zM401 387.7h1V391.6h-1zM402 390.7h1V396.9h-1zM403 389.9h1V393.8h-1zM404 386.0h1V390.5h-1zM405 375.0h1V388.6h-1zM406 389.2h1V394.8h-1zM407 388.6h1V398.3h-1zM408 386.8h1V395.4h-1zM409 383.4h1V391.9h-1zM410 381.6h1V389.0h-1zM411 386.3h1V389.1h-1zM412 384.6h1V388.6h-1zM413 388.3h1V394.0h-1zM414 386.3h1V392.6h-1zM415 388.2h1V393.3h-1zM416 388.2h1V391.1h-1zM417 389.1h1V391.5h-1zM418 388.2h1V390.7h-1zM419 388.8h1V392.2h-1zM420 388.8h1V392.1h-1zM421 387.7h1V390.9h-1zM422 381.4h1V390.2h-1zM423 364.1h1V380.4h-1zM424 367.7h1V383.8h-1zM425 375.2h1V383.8h-1zM426 382.9h1V387.6h-1zM427 386.0h1V392.0h-1zM428 387.6h1V393.2h-1zM429 381.4h1V389.3h-1zM430 381.4h1V387.4h-1zM431 372.1h1V385.4h-1zM432 370.6h1V382.2h-1zM433 375.0h1V381.8h-1zM434 383.9h1V389.0h-1zM435 387.3h1V395.4h-1zM436 390.1h1V393.4h-1zM437 389.3h1V394.4h-1zM438 389.4h1V394.6h-1zM439 390.1h1V393.8h-1zM440 387.6h1V391.3h-1zM441 385.1h1V389.5h-1zM442 377.9h1V387.1h-1zM443 385.8h1V391.8h-1zM444 390.2h1V395.4h-1zM445 389.5h1V392.4h-1zM446 385.2h1V390.1h-1zM447 386.7h1V390.0h-1zM448 388.2h1V392.2h-1zM449 389.7h1V393.8h-1zM450 392.2h1V395.2h-1zM451 393.2h1V396.1h-1zM452 393.8h1V396.4h-1zM453 394.4h1V396.4h-1zM454 394.7h1V397.2h-1zM455 394.7h1V397.3h-1zM456 393.4h1V396.5h-1zM457 391.3h1V395.5h-1zM458 392.9h1V396.0h-1zM459 392.6h1V395.7h-1zM460 392.0h1V394.8h-1zM461 393.4h1V396.1h-1zM462 392.1h1V395.6h-1zM463 392.9h1V396.4h-1zM464 391.6h1V395.6h-1zM465 393.5h1V396.3h-1zM466 392.5h1V395.7h-1zM467 393.5h1V397.1h-1zM468 396.0h1V398.1h-1zM469 394.8h1V398.0h-1zM470 395.3h1V398.0h-1zM471 395.5h1V398.4h-1zM472 395.6h1V398.3h-1zM473 396.2h1V398.2h-1zM474 395.4h1V397.4h-1zM475 389.2h1V398.3h-1zM476 369.2h1V395.4h-1zM477 376.1h1V388.5h-1zM478 374.4h1V385.4h-1zM479 373.5h1V384.3h-1zM480 373.5h1V387.2h-1zM481 383.4h1V388.4h-1zM482 387.7h1V394.0h-1zM483 388.3h1V392.6h-1zM484 388.6h1V392.5h-1zM485 389.6h1V394.0h-1zM486 391.5h1V394.5h-1zM487 391.7h1V395.3h-1zM488 392.0h1V395.6h-1zM489 394.0h1V396.9h-1zM490 387.6h1V392.8h-1zM491 380.0h1V389.6h-1zM492 377.1h1V386.2h-1zM493 376.4h1V383.8h-1zM494 374.3h1V384.9h-1zM495 360.4h1V379.2h-1zM496 367.3h1V380.0h-1zM497 376.6h1V385.6h-1zM498 386.3h1V391.2h-1zM499 390.0h1V394.2h-1zM500 388.8h1V393.4h-1zM501 390.7h1V395.0h-1zM502 391.5h1V396.3h-1zM503 390.4h1V397.6h-1zM504 387.1h1V393.2h-1zM505 382.3h1V388.0h-1zM506 387.5h1V396.1h-1zM507 390.1h1V394.5h-1zM508 381.9h1V388.3h-1zM509 375.0h1V387.8h-1zM510 377.9h1V384.9h-1zM511 381.3h1V387.6h-1zM512 384.3h1V390.7h-1zM513 390.6h1V394.9h-1zM514 390.6h1V397.6h-1zM515 394.4h1V397.7h-1zM516 393.3h1V396.8h-1zM517 393.4h1V397.4h-1zM518 389.1h1V395.3h-1zM519 388.8h1V394.0h-1zM520 376.5h1V395.4h-1zM521 328.2h1V392.5h-1zM522 294.4h1V342.2h-1zM523 332.3h1V365.2h-1zM524 361.8h1V368.9h-1zM525 369.4h1V383.8h-1zM526 372.8h1V383.8h-1zM527 379.6h1V386.5h-1zM528 376.0h1V385.6h-1zM529 378.2h1V386.9h-1zM530 381.3h1V394.0h-1zM531 383.5h1V396.9h-1zM532 380.3h1V388.0h-1zM533 373.5h1V383.6h-1zM534 375.0h1V384.8h-1zM535 378.1h1V387.3h-1zM536 381.0h1V389.3h-1zM537 387.3h1V391.5h-1zM538 389.0h1V392.5h-1zM539 388.1h1V393.0h-1zM540 388.8h1V392.7h-1zM541 387.2h1V393.4h-1zM542 384.5h1V390.8h-1zM543 379.4h1V388.9h-1zM544 385.1h1V392.9h-1zM545 389.8h1V393.9h-1zM546 387.0h1V393.2h-1zM547 383.0h1V388.1h-1zM548 386.4h1V390.9h-1zM549 390.2h1V394.8h-1zM550 390.9h1V395.6h-1zM551 390.6h1V394.9h-1zM552 392.5h1V396.3h-1zM553 390.6h1V396.8h-1zM554 386.0h1V393.2h-1zM555 382.3h1V390.6h-1zM556 384.2h1V390.7h-1zM557 388.3h1V394.5h-1zM558 386.7h1V396.9h-1zM559 382.3h1V388.7h-1zM560 379.5h1V385.5h-1zM561 384.0h1V387.5h-1zM562 374.3h1V384.9h-1zM563 373.8h1V382.6h-1zM564 370.6h1V383.0h-1zM565 379.0h1V385.8h-1zM566 377.8h1V388.1h-1zM567 372.3h1V383.1h-1zM568 367.8h1V377.1h-1zM569 361.9h1V374.9h-1zM570 358.2h1V377.0h-1zM571 371.0h1V380.1h-1zM572 377.2h1V384.3h-1zM573 382.9h1V389.0h-1zM574 382.7h1V392.5h-1zM575 376.6h1V385.7h-1zM576 372.7h1V379.1h-1zM577 366.3h1V381.0h-1zM578 374.6h1V381.7h-1zM579 374.8h1V381.2h-1zM580 377.9h1V385.1h-1zM581 379.6h1V385.0h-1zM582 378.7h1V385.3h-1zM583 384.4h1V388.9h-1zM584 383.3h1V388.7h-1zM585 380.8h1V388.4h-1zM586 377.2h1V387.3h-1zM587 383.7h1V390.0h-1zM588 384.9h1V390.8h-1zM589 385.7h1V391.3h-1zM590 387.0h1V392.4h-1zM591 389.4h1V392.6h-1zM592 390.7h1V395.0h-1zM593 391.9h1V395.5h-1zM594 390.7h1V396.1h-1zM595 389.4h1V393.1h-1zM596 385.7h1V390.9h-1zM597 386.0h1V391.0h-1zM598 385.2h1V390.1h-1zM599 383.5h1V389.8h-1zM600 379.4h1V389.9h-1zM601 387.1h1V391.2h-1zM602 391.5h1V394.3h-1zM603 393.6h1V398.3h-1zM604 393.9h1V397.2h-1zM605 391.5h1V395.8h-1zM606 390.5h1V394.4h-1zM607 389.9h1V393.7h-1zM608 388.8h1V391.5h-1zM609 388.4h1V393.3h-1zM610 382.3h1V390.4h-1zM611 388.3h1V394.2h-1zM612 391.4h1V394.3h-1zM613 393.0h1V395.5h-1zM614 393.5h1V398.3h-1zM615 387.3h1V393.0h-1zM616 380.1h1V385.5h-1zM617 372.1h1V384.1h-1zM618 381.7h1V387.3h-1zM619 382.3h1V391.4h-1zM620 389.7h1V394.1h-1zM621 390.5h1V393.6h-1zM622 388.9h1V393.6h-1zM623 388.8h1V394.2h-1z" fill="#000"/><g font-family="Liberation Sans, sans-serif" fill="#000"><text x="334" y="38" font-size="13.5" font-weight="bold" text-anchor="middle">Example application</text><text x="355" y="452.5" font-size="16" text-anchor="middle">Year</text><text x="84.5" y="427" font-size="10.6" text-anchor="middle">2000</text><text x="300.5" y="427" font-size="10.6" text-anchor="middle">2010</text><text x="516.5" y="427" font-size="10.6" text-anchor="middle">2020</text><text transform="translate(50 72.25) rotate(-90)" font-size="10.6" text-anchor="middle">0.10</text><text transform="translate(50 117.25) rotate(-90)" font-size="10.6" text-anchor="middle">0.00</text><text transform="translate(50 161.25) rotate(-90)" font-size="10.6" text-anchor="middle">-0.10</text><text transform="translate(50 190.25) rotate(-90)" font-size="10.6" text-anchor="middle">0.05</text><text transform="translate(50 231.25) rotate(-90)" font-size="10.6" text-anchor="middle">0.03</text><text transform="translate(50 272.25) rotate(-90)" font-size="10.6" text-anchor="middle">0.01</text><text transform="translate(50 322.25) rotate(-90)" font-size="10.6" text-anchor="middle">0.05</text><text transform="translate(50 355.25) rotate(-90)" font-size="10.6" text-anchor="middle">0.03</text><text transform="translate(50 388.25) rotate(-90)" font-size="10.6" text-anchor="middle">0.01</text><text transform="translate(25 120) rotate(-90)" font-size="15.8" text-anchor="middle">Log-returns</text><text transform="translate(25 234) rotate(-90)" font-size="15.6" text-anchor="middle">Model 1</text><text transform="translate(25 346.5) rotate(-90)" font-size="15.8" text-anchor="middle">Model 10</text></g></svg></body></html>
